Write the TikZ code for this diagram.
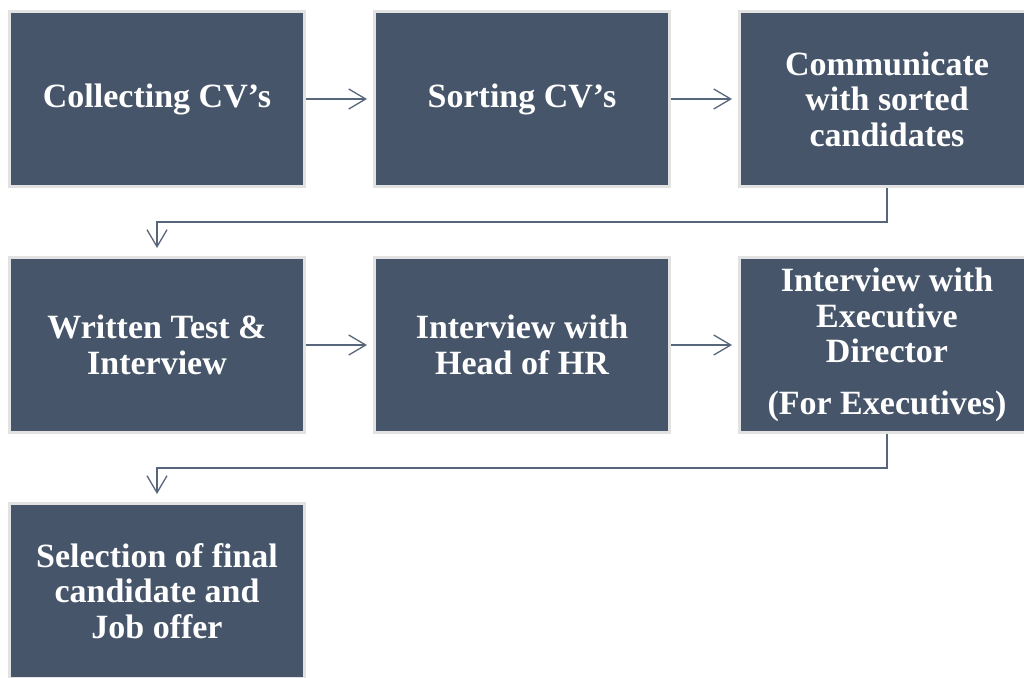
\documentclass[tikz,border=0pt]{standalone}
\usepackage{fontspec}
\setmainfont{Liberation Serif}
\usetikzlibrary{arrows.meta}
\definecolor{boxfill}{RGB}{70,85,106}
\definecolor{boxedge}{RGB}{226,226,226}
\definecolor{arrowc}{RGB}{88,102,124}
\tikzset{
  stepbox/.style={rectangle, fill=boxfill, draw=boxedge, line width=3pt,
    minimum width=295pt, minimum height=175pt, inner sep=0pt,
    text=white, align=center, font=\bfseries\fontsize{34}{35.5}\selectfont},
  conn/.style={draw=arrowc, line width=1.3pt,
    -{Straight Barb[length=17pt,width=20pt,line width=1.3pt]}}
}
\begin{document}
\begin{tikzpicture}[x=1pt,y=-1pt]
\clip (0,0) rectangle (1024,677);
\fill[white] (0,0) rectangle (1024,677);
\node[stepbox] (b1) at (157,99) {Collecting CV’s};
\node[stepbox] (b2) at (522,99) {Sorting CV’s};
\node[stepbox] (b3) at (887,99) {Communicate\\with sorted\\candidates};
\node[stepbox] (b4) at (157,345) {Written Test \&\\Interview};
\node[stepbox] (b5) at (522,345) {Interview with\\Head of HR};
\node[stepbox] (b6) at (887,345) {Interview with\\Executive\\Director\\[16pt](For Executives)};
\node[stepbox] (b7) at (157,591) {Selection of final\\candidate and\\Job offer};
\draw[conn, shorten >=6pt] (b1.east) -- (b2.west);
\draw[conn, shorten >=6pt] (b2.east) -- (b3.west);
\draw[conn, shorten >=8pt] (b3.south) -- ++(0,34) -| (b4.north);
\draw[conn, shorten >=6pt] (b4.east) -- (b5.west);
\draw[conn, shorten >=6pt] (b5.east) -- (b6.west);
\draw[conn, shorten >=8pt] (b6.south) -- ++(0,34) -| (b7.north);
\end{tikzpicture}
\end{document}
